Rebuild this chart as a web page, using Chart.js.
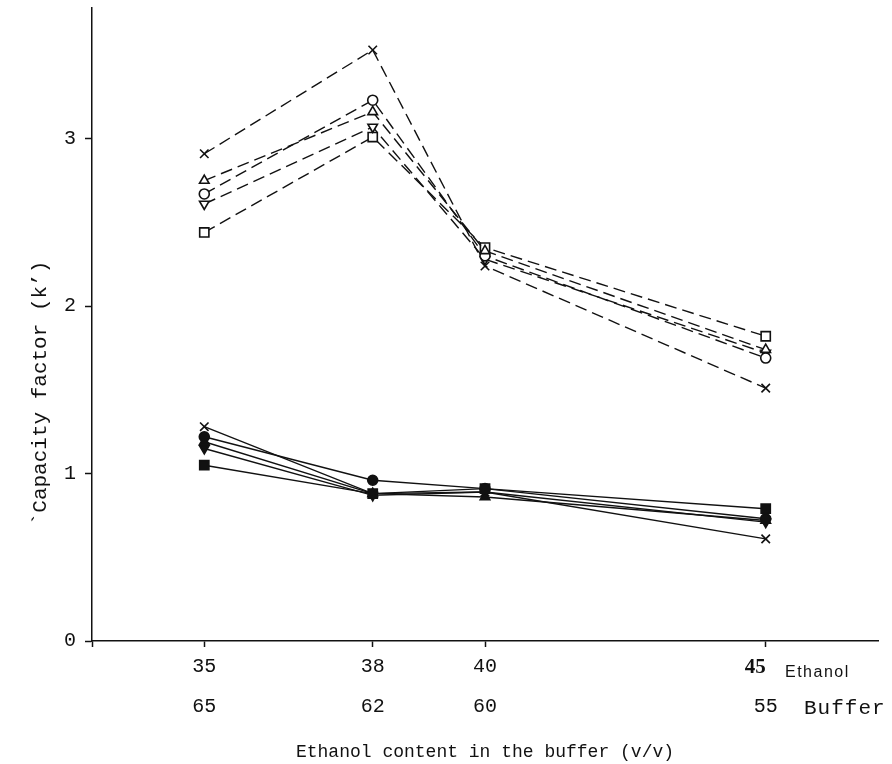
<!DOCTYPE html>
<html>
<head>
<meta charset="utf-8">
<script src="https://cdn.jsdelivr.net/npm/chart.js@4.4.1/dist/chart.umd.min.js"></script>
<style>
  html, body { margin: 0; padding: 0; background: #fff; }
  #wrap { width: 892px; height: 764px; position: relative; }
</style>
</head>
<body>
<div id="wrap"><canvas id="c" width="892" height="764"></canvas></div>
<script>
// Ethanol / buffer composition of the mobile phase (v/v)
const ethanol = [35, 38, 40, 45];
const buffer = [65, 62, 60, 55];
const yTickValues = [0, 1, 2, 3];

// Capacity factor k' — dashed series (open symbols)
const dashCross = [2.91, 3.53, 2.24, 1.51];
const dashTriUp = [2.75, 3.16, 2.33, 1.74];
const dashCircle = [2.67, 3.23, 2.30, 1.69];
const dashTriDown = [2.61, 3.07, 2.28, 1.72];
const dashSquare = [2.44, 3.01, 2.35, 1.82];

// Capacity factor k' — solid series (filled symbols)
const solidCross = [1.28, 0.88, 0.89, 0.61];
const solidCircle = [1.22, 0.96, 0.91, 0.73];
const solidTriUp = [1.19, 0.88, 0.86, 0.72];
const solidTriDown = [1.15, 0.87, 0.89, 0.71];
const solidSquare = [1.05, 0.88, 0.91, 0.79];

const pts = arr => arr.map((v, i) => ({ x: ethanol[i], y: v }));

function series(label, values, style, filled, dashed, radius, rotation) {
  return {
    label,
    data: pts(values),
    borderColor: '#111',
    backgroundColor: filled ? '#111' : '#fff',
    borderWidth: 1.4,
    borderDash: dashed ? [12, 6] : [],
    pointStyle: style,
    pointRotation: rotation || 0,
    pointRadius: radius,
    pointBorderWidth: 1.6,
    pointBackgroundColor: filled ? '#111' : '#fff',
    pointBorderColor: '#111',
    tension: 0,
    fill: false
  };
}

const datasets = [
  series('dash ×', dashCross, 'crossRot', false, true, 6),
  series('dash △', dashTriUp, 'triangle', false, true, 5.5),
  series('dash ○', dashCircle, 'circle', false, true, 5),
  series('dash ▽', dashTriDown, 'triangle', false, true, 5.5, 180),
  series('dash □', dashSquare, 'rect', false, true, 6.5),
  series('solid ×', solidCross, 'crossRot', true, false, 6),
  series('solid ●', solidCircle, 'circle', true, false, 5),
  series('solid ▲', solidTriUp, 'triangle', true, false, 5.5),
  series('solid ▼', solidTriDown, 'triangle', true, false, 5.5, 180),
  series('solid ■', solidSquare, 'rect', true, false, 6.5)
];

const mono = 'Liberation Mono, Courier New, monospace';

// Extra labels: row names beside the composition ticks and the k' axis title
const extraText = {
  id: 'extraText',
  afterDraw(chart) {
    const ctx = chart.ctx;
    ctx.save();
    ctx.fillStyle = '#111';
    ctx.textBaseline = 'middle';
    ctx.textAlign = 'left';
    ctx.letterSpacing = '1.5px';
    ctx.font = '16px Liberation Sans, Arial, sans-serif';
    ctx.fillText('Ethanol', 785, 673);
    ctx.letterSpacing = '1px';
    ctx.font = '21px ' + mono;
    ctx.fillText('Buffer', 804, 708);
    ctx.letterSpacing = '0px';
    ctx.translate(40, 393);
    ctx.rotate(-Math.PI / 2);
    ctx.textAlign = 'center';
    ctx.font = '21px ' + mono;
    ctx.fillText('`Capacity factor (k’)', 0, 0);
    ctx.restore();
  }
};

new Chart(document.getElementById('c'), {
  type: 'line',
  data: { datasets },
  plugins: [extraText],
  options: {
    responsive: false,
    animation: false,
    layout: { padding: { top: 0, right: 14, left: 0, bottom: 0 } },
    plugins: { legend: { display: false }, tooltip: { enabled: false } },
    scales: {
      x: {
        type: 'linear',
        position: 'bottom',
        weight: 0,
        min: 33,
        max: 47,
        afterBuildTicks: s => { s.ticks = [33].concat(ethanol).map(v => ({ value: v })); },
        afterFit: s => { s.height = 40; },
        border: { display: true, color: '#111', width: 1.5 },
        grid: { display: true, drawOnChartArea: false, drawTicks: true, tickLength: 6, tickColor: '#111', tickWidth: 1.5 },
        ticks: {
          padding: 8,
          color: '#111',
          maxRotation: 0,
          autoSkip: false,
          font: c => (c.tick && c.tick.value === 45)
            ? { family: 'Liberation Serif, Times New Roman, serif', size: 21, weight: 'bold' }
            : { family: mono, size: 20 },
          callback: v => (v === 33 ? '' : (v === 45 ? '45    ' : String(v)))
        }
      },
      xb: {
        type: 'linear',
        position: 'bottom',
        weight: 1,
        min: 33,
        max: 47,
        afterBuildTicks: s => { s.ticks = ethanol.map(v => ({ value: v })); },
        afterFit: s => { s.height = 83; },
        border: { display: false },
        grid: { display: false, drawTicks: false },
        ticks: {
          padding: 14,
          color: '#111',
          maxRotation: 0,
          autoSkip: false,
          font: { family: mono, size: 20 },
          callback: v => { const i = ethanol.indexOf(v); return i >= 0 ? String(buffer[i]) : ''; }
        },
        title: {
          display: true,
          text: 'Ethanol content in the buffer (v/v)',
          color: '#111',
          font: { family: mono, size: 18 },
          padding: { top: 0, bottom: 1 }
        }
      },
      y: {
        type: 'linear',
        min: 0,
        max: 3.78,
        afterBuildTicks: s => { s.ticks = yTickValues.map(v => ({ value: v })); },
        afterFit: s => { s.width = 92; s.paddingTop = 0; s.paddingBottom = 0; },
        border: { display: true, color: '#111', width: 1.5 },
        grid: { display: true, drawOnChartArea: false, drawTicks: true, tickLength: 7, tickColor: '#111', tickWidth: 1.5 },
        ticks: {
          padding: 9,
          color: '#111',
          font: { family: mono, size: 20 },
          callback: v => String(v)
        }
      }
    }
  }
});
</script>
</body>
</html>
